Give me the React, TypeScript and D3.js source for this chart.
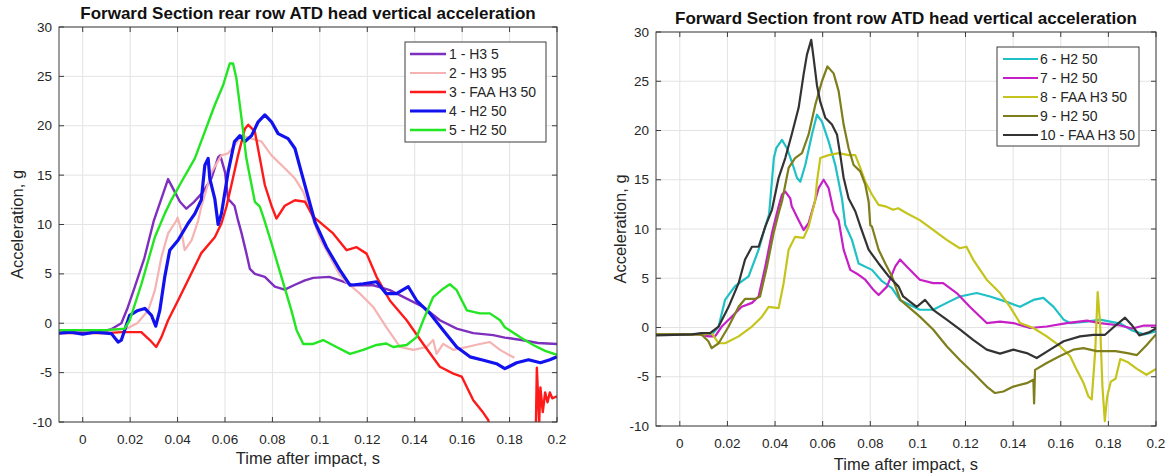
import React from "react";
import * as d3 from "d3";

type Pt = [number, number];

const xTicks = [0, 0.02, 0.04, 0.06, 0.08, 0.1, 0.12, 0.14, 0.16, 0.18, 0.2];
const xTickLabels = ["0", "0.02", "0.04", "0.06", "0.08", "0.1", "0.12", "0.14", "0.16", "0.18", "0.2"];
const yTicks = [-10, -5, 0, 5, 10, 15, 20, 25, 30];

// rear row (left panel)
const rearNames = ["1 - H3 5", "2 - H3 95", "3 - FAA H3 50", "4 - H2 50", "5 - H2 50"];
const rearColors = ["#7f2fbf", "#f5b3b3", "#ff1a1a", "#1212ee", "#22e622"];

const s1: Pt[] = [[-0.01,-0.7],[0,-0.75],[0.005,-0.7],[0.01,-0.75],[0.012,-0.6],[0.0163,0],[0.019,1.6],[0.022,3.7],[0.026,6.6],[0.03,10.4],[0.033,12.5],[0.036,14.6],[0.0388,13.3],[0.041,12.3],[0.0437,11.6],[0.047,12.3],[0.0508,13.3],[0.0543,14.7],[0.0571,16.8],[0.058,17.0],[0.06,15.3],[0.0613,12.6],[0.064,11.9],[0.0653,10.6],[0.067,9.1],[0.069,7.1],[0.0705,5.5],[0.0726,5.0],[0.0768,4.7],[0.081,3.7],[0.0852,3.4],[0.0895,3.9],[0.0937,4.35],[0.0972,4.6],[0.104,4.7],[0.1084,4.35],[0.114,3.85],[0.1225,3.85],[0.1295,3.35],[0.1366,2.5],[0.1436,1.65],[0.1506,0.3],[0.1577,-0.54],[0.1647,-1.0],[0.1731,-1.2],[0.178,-1.45],[0.185,-1.7],[0.192,-2.0],[0.2,-2.1]];
const s2: Pt[] = [[-0.01,-0.7],[0.01,-0.7],[0.018,-0.6],[0.023,0],[0.0276,1.3],[0.0304,3.3],[0.0332,6.7],[0.036,9.1],[0.0395,10.4],[0.04,10.7],[0.0416,9.4],[0.043,7.4],[0.0459,8.4],[0.0487,10.4],[0.05,11.8],[0.0543,15.3],[0.0585,17.0],[0.0613,17.2],[0.064,18.0],[0.067,19.0],[0.0712,18.7],[0.0754,18.4],[0.0796,17.0],[0.0852,15.7],[0.0895,14.65],[0.093,13.3],[0.1,8.6],[0.1084,4.9],[0.111,4.2],[0.1169,3.0],[0.1225,1.65],[0.128,-0.4],[0.1338,-2.4],[0.1394,-2.7],[0.145,-2.4],[0.1478,-1.7],[0.1492,-3.1],[0.152,-2.1],[0.1563,-2.7],[0.162,-2.4],[0.1675,-2.1],[0.1717,-1.9],[0.176,-2.7],[0.182,-3.5]];
const s3: Pt[] = [[-0.01,-1.0],[0.01,-1.0],[0.0163,-0.9],[0.0247,-0.9],[0.0283,-1.7],[0.031,-2.4],[0.0332,-1.4],[0.036,0.3],[0.0402,2.3],[0.0444,4.35],[0.05,7.1],[0.0557,8.7],[0.0585,10.1],[0.0606,11.8],[0.0627,14.0],[0.0655,17.0],[0.0684,19.7],[0.0698,20.1],[0.0726,19.4],[0.0747,16.7],[0.0768,14.0],[0.0796,11.9],[0.0817,10.6],[0.0852,11.9],[0.0895,12.45],[0.0937,12.3],[0.0972,10.8],[0.1056,9.1],[0.1113,7.4],[0.1155,7.7],[0.1197,7.05],[0.1239,4.7],[0.1295,2.3],[0.1366,0.3],[0.1436,-2.1],[0.1506,-4.4],[0.1563,-5.1],[0.1598,-5.4],[0.1647,-7.8],[0.169,-9.1],[0.171,-9.8],[0.173,-12],[0.191,-12],[0.1915,-4.5],[0.1925,-10],[0.193,-6.5],[0.194,-9],[0.195,-7],[0.196,-8],[0.197,-7],[0.198,-7.6],[0.2,-7.4]];
const s4: Pt[] = [[-0.01,-1.0],[-0.005,-0.9],[0,-1.1],[0.005,-0.9],[0.01,-1.0],[0.0121,-1.05],[0.0149,-1.9],[0.0163,-1.7],[0.0198,0.8],[0.0233,1.3],[0.0262,1.5],[0.029,0.8],[0.0308,-0.3],[0.0325,1.3],[0.0346,4.7],[0.0367,7.4],[0.0402,8.4],[0.0444,10.1],[0.0473,11.1],[0.05,12.5],[0.0515,16.0],[0.0529,16.7],[0.0536,14.65],[0.0557,12.6],[0.0571,10.0],[0.0585,11.1],[0.0613,15.3],[0.064,18.4],[0.0663,19.0],[0.0684,18.4],[0.0712,19.0],[0.074,20.4],[0.0768,21.1],[0.0796,20.4],[0.0824,19.2],[0.0866,18.7],[0.0895,17.7],[0.0923,15.2],[0.098,10.2],[0.1028,7.7],[0.1084,5.4],[0.1127,3.85],[0.1183,4.0],[0.1239,4.2],[0.128,3.0],[0.1323,3.0],[0.1373,3.7],[0.1408,2.3],[0.1464,1.0],[0.152,-0.7],[0.1577,-2.4],[0.1633,-3.4],[0.169,-3.75],[0.1745,-4.1],[0.178,-4.6],[0.183,-4.0],[0.188,-3.7],[0.193,-4.0],[0.197,-3.7],[0.2,-3.4]];
const s5: Pt[] = [[-0.01,-0.7],[0.01,-0.7],[0.0177,-0.54],[0.0198,0.3],[0.0248,4.0],[0.0304,8.7],[0.0346,11.1],[0.0374,12.5],[0.0416,14.3],[0.0473,16.7],[0.0515,19.4],[0.0557,22.1],[0.0592,24.1],[0.062,26.3],[0.0634,26.3],[0.0648,24.8],[0.067,20.7],[0.069,16.7],[0.0712,14.0],[0.0726,12.3],[0.0747,11.8],[0.0768,10.3],[0.0796,8.1],[0.0838,4.7],[0.088,1.3],[0.0902,-0.7],[0.093,-2.1],[0.0972,-2.1],[0.1014,-1.7],[0.107,-2.4],[0.1127,-3.1],[0.1183,-2.7],[0.1239,-2.2],[0.128,-2.05],[0.1309,-2.4],[0.1366,-2.2],[0.1408,-1.4],[0.1436,0.3],[0.1478,2.65],[0.152,3.5],[0.1548,3.95],[0.1577,3.35],[0.162,1.3],[0.1675,1.0],[0.1717,1.0],[0.176,0.3],[0.178,-0.4],[0.185,-1.5],[0.19,-2.2],[0.195,-2.8],[0.2,-3.2]];

// front row (right panel)
const frontNames = ["6 - H2 50", "7 - H2 50", "8 - FAA H3 50", "9 - H2 50", "10 - FAA H3 50"];
const frontColors = ["#1fc0c6", "#c61fc6", "#c4c41c", "#7e7e1c", "#333333"];

const s6: Pt[] = [[-0.01,-0.7],[0.005,-0.75],[0.0092,-0.6],[0.0134,-0.74],[0.0163,0.1],[0.019,2.8],[0.0232,4.2],[0.0289,5.2],[0.0331,7.9],[0.0359,10.25],[0.0375,11.5],[0.0395,17.2],[0.0405,18.2],[0.0429,19.05],[0.045,18.2],[0.047,16.85],[0.0492,15.2],[0.0506,14.8],[0.0527,16.5],[0.0555,19.6],[0.0576,21.6],[0.0597,20.9],[0.0625,18.9],[0.0653,16.5],[0.0681,13.1],[0.0695,10.4],[0.0723,8.9],[0.0751,6.5],[0.0807,5.85],[0.0849,4.7],[0.0891,4.0],[0.0924,2.8],[0.1008,1.8],[0.1064,1.8],[0.1121,2.5],[0.1176,3.15],[0.1247,3.5],[0.1303,3.15],[0.1373,2.6],[0.1429,2.1],[0.1485,2.8],[0.1527,3.0],[0.157,2.1],[0.1612,0.8],[0.1639,0.45],[0.171,0.6],[0.1765,0.8],[0.185,0.4],[0.19,-0.3],[0.195,-0.7],[0.2,-0.4]];
const s7: Pt[] = [[-0.01,-0.7],[0.008,-0.7],[0.012,-0.9],[0.0148,-0.9],[0.0176,0.1],[0.0218,1.1],[0.026,2.1],[0.0303,2.5],[0.0331,3.15],[0.0359,6.2],[0.0387,9.6],[0.0415,12.3],[0.0429,13.5],[0.0443,13.8],[0.0464,13.1],[0.047,12.3],[0.0499,10.9],[0.052,9.9],[0.0541,10.6],[0.0569,12.95],[0.0583,14.15],[0.0604,15.0],[0.0625,14.15],[0.0646,11.8],[0.0667,10.9],[0.0688,7.9],[0.0716,5.85],[0.0751,5.35],[0.0779,4.85],[0.0814,3.8],[0.0835,3.3],[0.087,4.15],[0.0905,6.2],[0.0925,6.9],[0.0953,6.2],[0.1008,4.85],[0.1064,4.5],[0.1106,4.5],[0.1163,3.5],[0.1218,2.1],[0.1289,0.45],[0.1345,0.6],[0.1401,0.45],[0.1471,-0.05],[0.1541,0.1],[0.1625,0.45],[0.171,0.7],[0.1765,0.45],[0.185,0.2],[0.19,-0.1],[0.195,0.2],[0.2,0.2]];
const s8: Pt[] = [[-0.01,-0.7],[0.01,-0.7],[0.0134,-0.57],[0.0163,-1.6],[0.019,-1.6],[0.0247,-0.9],[0.0303,0.1],[0.0345,1.1],[0.0373,2.1],[0.0415,1.97],[0.0436,4.5],[0.0457,7.9],[0.0484,9.2],[0.052,9.1],[0.0541,10.25],[0.0569,12.95],[0.0576,14.8],[0.059,17.2],[0.0625,17.5],[0.0667,17.7],[0.0709,17.5],[0.0737,17.5],[0.0758,16.2],[0.0779,14.8],[0.0807,13.5],[0.0835,12.45],[0.0863,12.3],[0.0896,11.95],[0.0917,12.1],[0.0953,11.6],[0.1008,10.9],[0.1064,9.9],[0.1121,8.9],[0.1176,8.05],[0.1204,8.2],[0.1232,6.9],[0.1289,4.85],[0.1345,3.5],[0.1387,2.1],[0.1429,0.45],[0.1485,-0.05],[0.1541,-0.9],[0.1597,-1.9],[0.1639,-2.9],[0.1667,-4.3],[0.1695,-5.6],[0.1716,-7.0],[0.173,-7.3],[0.1745,-2.3],[0.1755,3.6],[0.1765,0.5],[0.1775,-6],[0.1785,-9.5],[0.1795,-7],[0.181,-5.5],[0.183,-5.2],[0.185,-3.2],[0.188,-3.5],[0.192,-4.2],[0.196,-4.8],[0.2,-4.2]];
const s9: Pt[] = [[-0.01,-0.7],[0.008,-0.7],[0.0092,-0.74],[0.012,-1.4],[0.0134,-2.1],[0.0163,-1.6],[0.0205,0.1],[0.0247,2.1],[0.0274,2.9],[0.0316,2.9],[0.0337,3.15],[0.0366,6.2],[0.0394,9.6],[0.0415,11.6],[0.0429,12.8],[0.0457,16.2],[0.0484,17.2],[0.0513,17.7],[0.0541,19.6],[0.0569,22.6],[0.0597,25.0],[0.062,26.5],[0.0646,25.8],[0.0667,24.0],[0.0688,20.6],[0.0709,18.2],[0.073,16.5],[0.0758,15.85],[0.0779,14.5],[0.0793,12.8],[0.08,10.4],[0.0807,10.25],[0.0835,7.9],[0.0863,6.5],[0.0891,5.2],[0.0926,2.8],[0.1008,1.1],[0.1064,-0.2],[0.1121,-1.9],[0.1176,-3.3],[0.1232,-4.6],[0.1289,-6.0],[0.1324,-6.65],[0.1359,-6.5],[0.1401,-6.0],[0.1457,-5.65],[0.1485,-5.3],[0.1488,-7.7],[0.1492,-4.3],[0.1541,-3.6],[0.1597,-2.9],[0.1653,-2.25],[0.1695,-2.1],[0.1751,-2.4],[0.1786,-2.4],[0.183,-2.4],[0.188,-2.6],[0.192,-2.8],[0.196,-1.8],[0.2,-0.7]];
const s10: Pt[] = [[-0.01,-0.8],[0.005,-0.7],[0.0092,-0.57],[0.0127,-0.57],[0.0163,0.1],[0.0205,2.1],[0.0247,4.5],[0.0274,6.9],[0.0303,8.2],[0.0331,8.2],[0.0359,10.25],[0.0387,11.95],[0.0415,15.2],[0.0443,17.2],[0.047,19.6],[0.0499,22.3],[0.052,25.7],[0.0534,27.7],[0.0552,29.2],[0.0562,27.35],[0.0576,24.6],[0.059,22.9],[0.0611,21.3],[0.0639,20.6],[0.066,19.6],[0.0674,17.5],[0.0688,15.2],[0.0709,13.1],[0.0737,11.8],[0.0758,10.3],[0.0793,7.9],[0.0835,6.5],[0.0877,5.2],[0.0919,4.15],[0.0938,3.15],[0.0995,2.1],[0.103,2.8],[0.1064,1.8],[0.1121,0.8],[0.1176,-0.2],[0.1232,-1.25],[0.1289,-2.25],[0.1345,-2.65],[0.1401,-2.25],[0.1457,-2.6],[0.1499,-3.1],[0.1555,-2.25],[0.1612,-1.4],[0.1681,-0.9],[0.1737,-0.74],[0.1786,-0.74],[0.183,0.2],[0.187,1.0],[0.19,0.2],[0.193,-0.8],[0.197,-0.5],[0.2,-0.1]];

const FONT = "'Liberation Sans', Arial, sans-serif";
const INK = "#262626";

type PanelProps = {
  id: string;
  title: string;
  box: { left: number; right: number; top: number; bottom: number };
  titleY: number;
  xLabelY: number;
  yLabelX: number;
  names: string[];
  colors: string[];
  series: Pt[][];
  widths: number[];
  legend: { x: number; y: number; w: number; h: number; row0: number; step: number; lineX0: number; lineX1: number; textX: number };
};

const Panel = (p: PanelProps) => {
  const { left, right, top, bottom } = p.box;
  const x = d3.scaleLinear().domain([-0.01, 0.2]).range([left, right]);
  const y = d3.scaleLinear().domain([-10, 30]).range([bottom, top]);
  const line = d3
    .line<Pt>()
    .x((d) => x(d[0]))
    .y((d) => y(d[1]));
  const cx = (left + right) / 2;
  const cy = (top + bottom) / 2;
  const L = p.legend;

  return (
    <g fontFamily={FONT}>
      <defs>
        <clipPath id={p.id}>
          <rect x={left} y={top} width={right - left} height={bottom - top} />
        </clipPath>
      </defs>
      {/* grid */}
      {xTicks.map((t) => (
        <line key={"gx" + t} x1={x(t)} x2={x(t)} y1={top} y2={bottom} stroke="#e3e3e3" />
      ))}
      {yTicks.map((t) => (
        <line key={"gy" + t} x1={left} x2={right} y1={y(t)} y2={y(t)} stroke="#e3e3e3" />
      ))}
      {/* curves */}
      <g clipPath={`url(#${p.id})`}>
        {p.series.map((s, i) => (
          <path
            key={i}
            d={line(s) || ""}
            fill="none"
            stroke={p.colors[i]}
            strokeWidth={p.widths[i]}
            strokeLinejoin="round"
          />
        ))}
      </g>
      {/* axes box + ticks */}
      <rect x={left} y={top} width={right - left} height={bottom - top} fill="none" stroke="#3c3c3c" strokeWidth={1} />
      {xTicks.map((t) => (
        <g key={"tx" + t}>
          <line x1={x(t)} x2={x(t)} y1={bottom} y2={bottom - 5} stroke="#3c3c3c" />
          <line x1={x(t)} x2={x(t)} y1={top} y2={top + 5} stroke="#3c3c3c" />
        </g>
      ))}
      {yTicks.map((t) => (
        <g key={"ty" + t}>
          <line x1={left} x2={left + 5} y1={y(t)} y2={y(t)} stroke="#3c3c3c" />
          <line x1={right} x2={right - 5} y1={y(t)} y2={y(t)} stroke="#3c3c3c" />
        </g>
      ))}
      {xTicks.map((t, i) => (
        <text key={"lx" + t} x={x(t)} y={bottom + 17} textAnchor="middle" dominantBaseline="central" fontSize={13.5} fill={INK}>
          {xTickLabels[i]}
        </text>
      ))}
      {yTicks.map((t) => (
        <text key={"ly" + t} x={left - 7} y={y(t)} textAnchor="end" dominantBaseline="central" fontSize={13.5} fill={INK}>
          {t}
        </text>
      ))}
      <text x={cx} y={p.titleY} textAnchor="middle" dominantBaseline="central" fontSize={17} fontWeight="bold" fill="#111">
        {p.title}
      </text>
      <text x={cx} y={p.xLabelY} textAnchor="middle" dominantBaseline="central" fontSize={16.5} fill={INK}>
        Time after impact, s
      </text>
      <text
        transform={`translate(${p.yLabelX},${cy}) rotate(-90)`}
        textAnchor="middle"
        dominantBaseline="central"
        fontSize={16.5}
        fill={INK}
      >
        Acceleration, g
      </text>
      {/* legend */}
      <rect x={L.x} y={L.y} width={L.w} height={L.h} fill="#fff" stroke="#3c3c3c" />
      {p.names.map((n, i) => (
        <g key={n + i}>
          <line
            x1={L.lineX0}
            x2={L.lineX1}
            y1={L.row0 + i * L.step}
            y2={L.row0 + i * L.step}
            stroke={p.colors[i]}
            strokeWidth={p.widths[i]}
          />
          <text x={L.textX} y={L.row0 + i * L.step} dominantBaseline="central" fontSize={14} fill={INK}>
            {n}
          </text>
        </g>
      ))}
    </g>
  );
};

const App = () => {
  return (
    <svg width={1167} height={476} style={{ position: "absolute", left: 0, top: 0, background: "#fff" }}>
      <rect width={1167} height={476} fill="#fff" />
      <Panel
        id="clipRear"
        title="Forward Section rear row ATD head vertical acceleration"
        box={{ left: 59, right: 557, top: 27, bottom: 422 }}
        titleY={13}
        xLabelY={458}
        yLabelX={17}
        names={rearNames}
        colors={rearColors}
        series={[s1, s2, s3, s4, s5]}
        widths={[2.4, 2.2, 2.4, 3.2, 2.4]}
        legend={{ x: 405, y: 42, w: 141, h: 100, row0: 54, step: 19, lineX0: 410, lineX1: 446, textX: 449 }}
      />
      <Panel
        id="clipFront"
        title="Forward Section front row ATD head vertical acceleration"
        box={{ left: 656, right: 1156, top: 32, bottom: 426 }}
        titleY={18}
        xLabelY={464}
        yLabelX={620}
        names={frontNames}
        colors={frontColors}
        series={[s6, s7, s8, s9, s10]}
        widths={[2.2, 2.2, 2.2, 2.2, 2.2]}
        legend={{ x: 997, y: 47, w: 142, h: 99, row0: 59, step: 19, lineX0: 1003, lineX1: 1038, textX: 1040 }}
      />
    </svg>
  );
};

export default App;
